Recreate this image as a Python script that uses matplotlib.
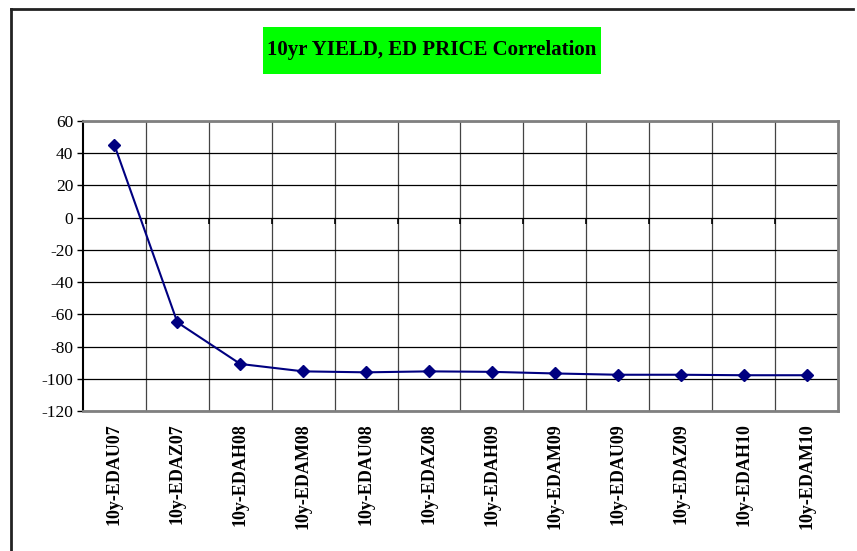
import matplotlib
matplotlib.use("Agg")
import matplotlib.pyplot as plt
from matplotlib.lines import Line2D
from matplotlib.patches import Rectangle
from matplotlib.ticker import FixedLocator

categories = ["10y-EDAU07", "10y-EDAZ07", "10y-EDAH08", "10y-EDAM08", "10y-EDAU08",
              "10y-EDAZ08", "10y-EDAH09", "10y-EDAM09", "10y-EDAU09", "10y-EDAZ09",
              "10y-EDAH10", "10y-EDAM10"]
correlation = [45, -65, -90.8, -95.4, -96.0, -95.4, -95.7, -96.7, -97.5, -97.5, -97.8, -97.8]
y_ticks = [60, 40, 20, 0, -20, -40, -60, -80, -100, -120]
title = "10yr YIELD, ED PRICE Correlation"

plt.rcParams['font.family'] = ['Liberation Serif', 'DejaVu Serif']

fig = plt.figure(figsize=(8.57, 5.51), dpi=100)
ax = fig.add_axes([83/857, 1-411/551, (838-83)/857, (411-121)/551])

x = list(range(len(categories)))
ax.plot(x, correlation, color="#000080", lw=1.5, marker="D", markersize=6.5,
        markerfacecolor="#000080", markeredgecolor="#000080", zorder=5, clip_on=False)

ax.set_xlim(-0.5, len(categories) - 0.5)
ax.set_ylim(-120, 60)
ax.set_yticks(y_ticks)
ax.set_yticklabels([str(v) for v in y_ticks], fontsize=12.5)
ax.set_xticks(x)
ax.set_xticklabels(categories, rotation=90, fontsize=13, fontweight="bold")
ax.tick_params(axis="x", length=0, pad=9)
ax.tick_params(axis="y", length=4, width=1, direction="out", pad=3, color="black")
ax.xaxis.set_minor_locator(FixedLocator([i + 0.5 for i in range(len(categories) - 1)]))
ax.tick_params(axis="x", which="minor", length=0)
ax.grid(True, axis="y", which="major", color="black", lw=0.9)
ax.grid(True, axis="x", which="minor", color="#444444", lw=0.9)
ax.set_axisbelow(True)

for s in ["top", "right", "bottom"]:
    ax.spines[s].set_color("#808080")
    ax.spines[s].set_linewidth(2)
ax.spines["left"].set_color("black")
ax.spines["left"].set_linewidth(1.5)

# category axis crossing at zero with tick marks at boundaries
ax2 = ax.twiny()
ax2.set_xlim(ax.get_xlim())
ax2.spines["bottom"].set_position(("data", 0))
ax2.spines["bottom"].set_visible(False)
for s in ["top", "right", "left"]:
    ax2.spines[s].set_visible(False)
ax2.xaxis.set_ticks_position("bottom")
ax2.set_xticks([i + 0.5 for i in range(len(categories) - 1)])
ax2.set_xticklabels([])
ax2.tick_params(axis="x", length=4, width=1.2, direction="out", color="black")

# title box
fig.add_artist(Rectangle((263/857, 1-74/551), (601-263)/857, (74-27)/551,
                         transform=fig.transFigure, facecolor="#00FF00", edgecolor="none"))
fig.text(432/857, 1-50/551, title, ha="center", va="center", fontsize=15,
         fontweight="bold")

# outer border (top and left)
fig.add_artist(Line2D([11/857, 853/857], [1-9/551, 1-9/551], color="#222222", lw=2,
                      transform=fig.transFigure))
fig.add_artist(Line2D([11/857, 11/857], [1-9/551, 0], color="#222222", lw=2,
                      transform=fig.transFigure))

fig.savefig("out.png", dpi=100)
